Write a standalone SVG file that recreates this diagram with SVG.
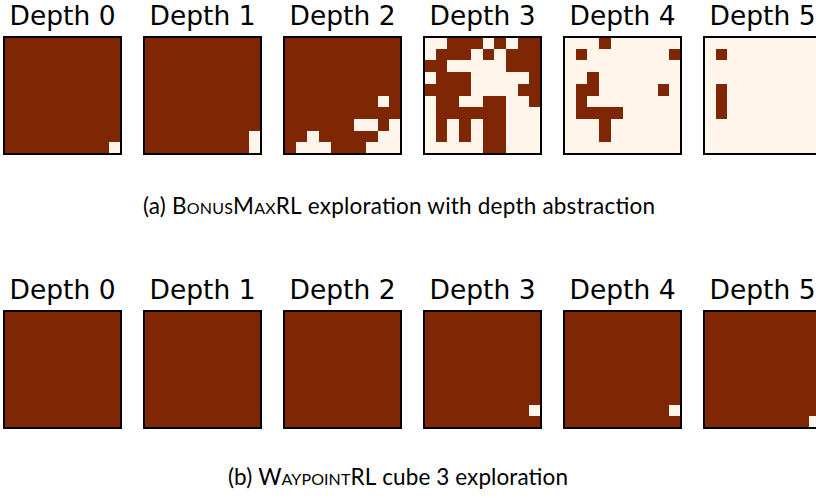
<svg xmlns="http://www.w3.org/2000/svg" width="816" height="498" viewBox="0 0 816 498">
<style>
.t{font-family:"DejaVu Sans",sans-serif;font-size:26.5px;fill:#000;text-anchor:middle}
.cap{font-family:Lato,"Open Sans",sans-serif;font-size:22.5px;fill:#000;text-anchor:middle}
.sc{font-variant:small-caps}
.d{fill:#7f2704}
.l{fill:#fff5eb}
.b{fill:none;stroke:#000;stroke-width:1.6}
rect{shape-rendering:crispEdges}
</style>
<rect width="816" height="498" fill="#fff"/>
<!-- Row (a) -->
<g id="a0" transform="translate(4,37)">
<rect class="d" width="117" height="117"/>
<rect class="l" x="105.3" y="105.3" width="11.7" height="11.7"/>
<rect class="b" width="117" height="117"/>
</g>
<g id="a1" transform="translate(144,37)">
<rect class="d" width="117" height="117"/>
<rect class="l" x="105.3" y="93.6" width="11.7" height="23.4"/>
<rect class="b" width="117" height="117"/>
</g>
<g id="a2" transform="translate(284,37)">
<rect class="d" width="117" height="117"/>
<rect class="l" x="93.6" y="58.5" width="11.7" height="11.7"/>
<rect class="l" x="70.2" y="81.9" width="23.4" height="11.7"/>
<rect class="l" x="105.3" y="81.9" width="11.7" height="11.7"/>
<rect class="l" x="93.6" y="93.6" width="23.4" height="11.7"/>
<rect class="l" x="81.9" y="105.3" width="35.1" height="11.7"/>
<rect class="l" x="23.4" y="93.6" width="11.7" height="11.7"/>
<rect class="l" x="11.7" y="105.3" width="35.1" height="11.7"/>
<rect class="b" width="117" height="117"/>
</g>
<g id="a3" transform="translate(424,37)">
<rect class="l" width="117" height="117"/>
<rect class="d" x="23.4" y="0" width="35.1" height="11.7"/>
<rect class="d" x="70.2" y="0" width="11.7" height="11.7"/>
<rect class="d" x="93.6" y="0" width="23.4" height="11.7"/>
<rect class="d" x="11.7" y="11.7" width="35.1" height="11.7"/>
<rect class="d" x="58.5" y="11.7" width="11.7" height="11.7"/>
<rect class="d" x="81.9" y="11.7" width="35.1" height="11.7"/>
<rect class="d" x="0" y="23.4" width="23.4" height="11.7"/>
<rect class="d" x="81.9" y="23.4" width="35.1" height="11.7"/>
<rect class="d" x="11.7" y="35.1" width="35.1" height="11.7"/>
<rect class="d" x="105.3" y="35.1" width="11.7" height="11.7"/>
<rect class="d" x="0" y="46.8" width="46.8" height="11.7"/>
<rect class="d" x="93.6" y="46.8" width="23.4" height="11.7"/>
<rect class="d" x="11.7" y="58.5" width="23.4" height="11.7"/>
<rect class="d" x="58.5" y="58.5" width="23.4" height="11.7"/>
<rect class="d" x="105.3" y="58.5" width="11.7" height="11.7"/>
<rect class="d" x="11.7" y="70.2" width="70.2" height="11.7"/>
<rect class="d" x="11.7" y="81.9" width="11.7" height="23.4"/>
<rect class="d" x="35.1" y="81.9" width="11.7" height="23.4"/>
<rect class="d" x="58.5" y="81.9" width="23.4" height="35.1"/>
<rect class="b" width="117" height="117"/>
</g>
<g id="a4" transform="translate(564,37)">
<rect class="l" width="117" height="117"/>
<rect class="d" x="35.1" y="0" width="11.7" height="11.7"/>
<rect class="d" x="11.7" y="11.7" width="11.7" height="11.7"/>
<rect class="d" x="105.3" y="11.7" width="11.7" height="11.7"/>
<rect class="d" x="23.4" y="35.1" width="11.7" height="11.7"/>
<rect class="d" x="11.7" y="46.8" width="23.4" height="11.7"/>
<rect class="d" x="93.6" y="46.8" width="11.7" height="11.7"/>
<rect class="d" x="11.7" y="58.5" width="11.7" height="11.7"/>
<rect class="d" x="11.7" y="70.2" width="46.8" height="11.7"/>
<rect class="d" x="35.1" y="81.9" width="11.7" height="23.4"/>
<rect class="b" width="117" height="117"/>
</g>
<g id="a5" transform="translate(704,37)">
<rect class="l" width="117" height="117"/>
<rect class="d" x="11.7" y="11.7" width="11.7" height="11.7"/>
<rect class="d" x="11.7" y="46.8" width="11.7" height="35.1"/>
<rect class="b" width="117" height="117"/>
</g>
<g id="titles-a">
<text class="t" x="62.5" y="25">Depth 0</text>
<text class="t" x="202.5" y="25">Depth 1</text>
<text class="t" x="342.5" y="25">Depth 2</text>
<text class="t" x="482.5" y="25">Depth 3</text>
<text class="t" x="622.5" y="25">Depth 4</text>
<text class="t" x="762.5" y="25">Depth 5</text>
</g>
<text id="caption-a" class="cap" x="399" y="214" textLength="512" lengthAdjust="spacing">(a) <tspan class="sc">BonusMaxRL</tspan> exploration with depth abstraction</text>
<!-- Row (b) -->
<g id="b0" transform="translate(4,311)">
<rect class="d" width="117" height="117"/>
<rect class="b" width="117" height="117"/>
</g>
<g id="b1" transform="translate(144,311)">
<rect class="d" width="117" height="117"/>
<rect class="b" width="117" height="117"/>
</g>
<g id="b2" transform="translate(284,311)">
<rect class="d" width="117" height="117"/>
<rect class="b" width="117" height="117"/>
</g>
<g id="b3" transform="translate(424,311)">
<rect class="d" width="117" height="117"/>
<rect class="l" x="105.3" y="93.6" width="11.7" height="11.7"/>
<rect class="b" width="117" height="117"/>
</g>
<g id="b4" transform="translate(564,311)">
<rect class="d" width="117" height="117"/>
<rect class="l" x="105.3" y="93.6" width="11.7" height="11.7"/>
<rect class="b" width="117" height="117"/>
</g>
<g id="b5" transform="translate(704,311)">
<rect class="d" width="117" height="117"/>
<rect class="l" x="105.3" y="105.3" width="11.7" height="11.7"/>
<rect class="b" width="117" height="117"/>
</g>
<g id="titles-b">
<text class="t" x="62.5" y="299">Depth 0</text>
<text class="t" x="202.5" y="299">Depth 1</text>
<text class="t" x="342.5" y="299">Depth 2</text>
<text class="t" x="482.5" y="299">Depth 3</text>
<text class="t" x="622.5" y="299">Depth 4</text>
<text class="t" x="762.5" y="299">Depth 5</text>
</g>
<text id="caption-b" class="cap" x="398" y="485" textLength="340" lengthAdjust="spacing">(b) <tspan class="sc">WaypointRL</tspan> cube 3 exploration</text>
</svg>
